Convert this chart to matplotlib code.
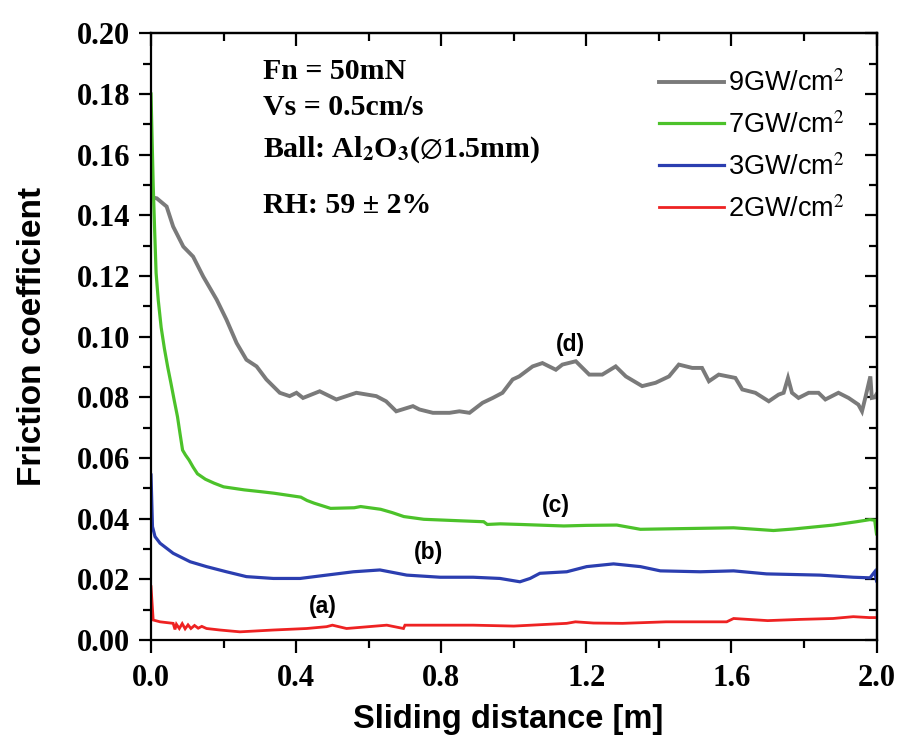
import matplotlib
matplotlib.use("Agg")
import matplotlib.pyplot as plt
from matplotlib.ticker import MultipleLocator

plt.rcParams['mathtext.fontset'] = 'stix'

# ---- data ----
x_9 = [0.0, 0.016, 0.043, 0.061, 0.089, 0.116, 0.144, 0.181, 0.208, 0.236, 0.263, 0.291, 0.318,
       0.355, 0.382, 0.401, 0.419, 0.465, 0.511, 0.566, 0.621, 0.648, 0.676, 0.722, 0.740, 0.777,
       0.823, 0.850, 0.878, 0.914, 0.942, 0.969, 0.997, 1.015, 1.052, 1.079, 1.116, 1.134, 1.171,
       1.208, 1.244, 1.281, 1.309, 1.354, 1.391, 1.428, 1.455, 1.492, 1.519, 1.538, 1.565, 1.611,
       1.630, 1.666, 1.703, 1.730, 1.744, 1.756, 1.767, 1.785, 1.813, 1.840, 1.859, 1.895, 1.923,
       1.950, 1.960, 1.969, 1.983, 1.987, 1.995, 2.0]
y_9 = [0.146, 0.1456, 0.1429, 0.1363, 0.1297, 0.1264, 0.1198, 0.1122, 0.1056, 0.0979, 0.0924,
       0.0902, 0.0859, 0.0815, 0.0804, 0.0815, 0.0798, 0.0820, 0.0793, 0.0815, 0.0804, 0.0787,
       0.0754, 0.0771, 0.0760, 0.0749, 0.0749, 0.0754, 0.0749, 0.0782, 0.0798, 0.0815, 0.0859,
       0.0869, 0.0902, 0.0913, 0.0891, 0.0908, 0.0919, 0.0875, 0.0875, 0.0902, 0.0869, 0.0837,
       0.0848, 0.0869, 0.0908, 0.0897, 0.0897, 0.0853, 0.0875, 0.0864, 0.0826, 0.0815, 0.0787,
       0.0809, 0.0815, 0.0864, 0.0815, 0.0798, 0.0815, 0.0815, 0.0793, 0.0815, 0.0798, 0.0776,
       0.0754, 0.0798, 0.0869, 0.0798, 0.0800, 0.0810]

x_7 = [0.0, 0.003, 0.006, 0.010, 0.014, 0.020, 0.028, 0.037, 0.046, 0.055, 0.064, 0.073, 0.080,
       0.087, 0.095, 0.105, 0.116, 0.128, 0.150, 0.174, 0.200, 0.257, 0.303, 0.339, 0.413, 0.430,
       0.450, 0.495, 0.560, 0.578, 0.633, 0.665, 0.697, 0.752, 0.853, 0.917, 0.927, 0.963, 1.018,
       1.138, 1.200, 1.284, 1.349, 1.450, 1.606, 1.716, 1.771, 1.881, 1.945, 1.982, 1.995, 2.0]
y_7 = [0.180, 0.165, 0.150, 0.135, 0.121, 0.112, 0.103, 0.096, 0.090, 0.0846, 0.079, 0.0736,
       0.068, 0.0626, 0.061, 0.0593, 0.057, 0.0548, 0.053, 0.0517, 0.0505, 0.0495, 0.0489,
       0.0484, 0.0471, 0.046, 0.0451, 0.0434, 0.0436, 0.0440, 0.0431, 0.042, 0.0407, 0.0398,
       0.0393, 0.0390, 0.0381, 0.0383, 0.0381, 0.0376, 0.0378, 0.0379, 0.0365, 0.0367, 0.0370,
       0.0361, 0.0366, 0.0379, 0.0390, 0.0397, 0.0395, 0.035]

x_3 = [0.0, 0.004, 0.011, 0.025, 0.061, 0.108, 0.153, 0.208, 0.263, 0.337, 0.411, 0.484, 0.558,
       0.631, 0.705, 0.797, 0.888, 0.962, 1.017, 1.045, 1.072, 1.146, 1.201, 1.275, 1.349, 1.404,
       1.514, 1.606, 1.697, 1.844, 1.936, 1.982, 1.995, 2.0]
y_3 = [0.0544, 0.0374, 0.0341, 0.0319, 0.0286, 0.0258, 0.0242, 0.0225, 0.0209, 0.0203, 0.0203,
       0.0214, 0.0225, 0.0231, 0.0214, 0.0207, 0.0207, 0.0203, 0.0192, 0.0203, 0.0220, 0.0225,
       0.0242, 0.0251, 0.0242, 0.0228, 0.0225, 0.0228, 0.0218, 0.0214, 0.0207, 0.0205, 0.0225,
       0.0195]

x_2 = [0.0, 0.006, 0.025, 0.061, 0.066, 0.070, 0.078, 0.086, 0.094, 0.102, 0.110, 0.120, 0.130,
       0.140, 0.153, 0.190, 0.245, 0.337, 0.429, 0.484, 0.500, 0.539, 0.650, 0.696, 0.700, 0.888,
       1.000, 1.146, 1.170, 1.220, 1.300, 1.420, 1.587, 1.606, 1.700, 1.789, 1.880, 1.936, 1.980,
       2.0]
y_2 = [0.0176, 0.0066, 0.0060, 0.0055, 0.0035, 0.0052, 0.0038, 0.0054, 0.0037, 0.0050, 0.0038,
       0.0048, 0.0039, 0.0045, 0.0038, 0.0033, 0.0027, 0.0033, 0.0038, 0.0044, 0.0049, 0.0038,
       0.0049, 0.0038, 0.0049, 0.0049, 0.0046, 0.0055, 0.0060, 0.0056, 0.0055, 0.0060, 0.0060,
       0.0071, 0.0064, 0.0068, 0.0071, 0.0077, 0.0074, 0.0074]

labels = ["9GW/cm$^2$", "7GW/cm$^2$", "3GW/cm$^2$", "2GW/cm$^2$"]
colors = ["#7a7a7a", "#4cc22a", "#2b3eb0", "#ee2222"]

curve_tags = ["(d)", "(c)", "(b)", "(a)"]
tag_x = [1.156, 1.115, 0.765, 0.473]
tag_y = [0.0973, 0.0445, 0.0287, 0.0109]

cond_lines = ["Fn = 50mN", "Vs = 0.5cm/s",
              r"Ball: Al$_\mathbf{2}$O$_\mathbf{3}$($\varnothing$1.5mm)", "RH: 59 ± 2%"]
cond_y = [0.1873, 0.1757, 0.1616, 0.1434]

# ---- figure ----
fig = plt.figure(figsize=(9, 7.47), dpi=100)
ax = fig.add_axes([0.1678, 0.1432, 0.8061, 0.8122])

series = [(x_9, y_9), (x_7, y_7), (x_3, y_3), (x_2, y_2)]
lws = [2.8, 2.3, 2.3, 2.0]
for (xs, ys), lab, c, lw in zip(series, labels, colors, lws):
    ax.plot(xs, ys, color=c, lw=lw, label=lab, solid_joinstyle='miter')

ax.set_xlim(0, 2.0)
ax.set_ylim(0, 0.20)
ax.xaxis.set_major_locator(MultipleLocator(0.4))
ax.xaxis.set_minor_locator(MultipleLocator(0.2))
ax.yaxis.set_major_locator(MultipleLocator(0.02))
ax.yaxis.set_minor_locator(MultipleLocator(0.01))
ax.xaxis.set_major_formatter(plt.FuncFormatter(lambda v, p: f"{v:.1f}"))
ax.yaxis.set_major_formatter(plt.FuncFormatter(lambda v, p: f"{v:.2f}"))

for s in ax.spines.values():
    s.set_linewidth(1.6)

ax.tick_params(which='both', direction='out', top=False, right=False, width=1.6)
ax.tick_params(which='major', length=9)
ax.tick_params(which='minor', length=5.5)
ax.tick_params(axis='x', which='major', pad=8)
ax.tick_params(axis='y', which='major', pad=6)

ax_top = ax.secondary_xaxis('top')
ax_top.xaxis.set_major_locator(MultipleLocator(0.4))
ax_top.xaxis.set_minor_locator(MultipleLocator(0.2))
ax_top.tick_params(which='both', direction='in', labeltop=False, width=1.6)
ax_top.tick_params(which='major', length=9)
ax_top.tick_params(which='minor', length=5.5)
ax_top.spines['top'].set_linewidth(1.6)
ax_right = ax.secondary_yaxis('right')
ax_right.yaxis.set_major_locator(MultipleLocator(0.02))
ax_right.yaxis.set_minor_locator(MultipleLocator(0.01))
ax_right.tick_params(which='both', direction='in', labelright=False, width=1.6)
ax_right.tick_params(which='major', length=9)
ax_right.tick_params(which='minor', length=5.5)
ax_right.spines['right'].set_linewidth(1.6)

for t in ax.get_xticklabels() + ax.get_yticklabels():
    t.set_fontfamily('Liberation Serif')
    t.set_fontweight('bold')
    t.set_fontsize(22)

ax.set_xlabel("Sliding distance [m]", fontfamily='Liberation Sans', fontweight='bold', fontsize=23.5)
ax.set_ylabel("Friction coefficient", fontfamily='Liberation Sans', fontweight='bold', fontsize=24)
ax.xaxis.set_label_coords(0.493, -0.105)
ax.yaxis.set_label_coords(-0.142, 0.5)

for txt, ty in zip(cond_lines, cond_y):
    ax.text(0.308, ty, txt, fontfamily='Liberation Serif', fontweight='bold', fontsize=21.5,
            va='center', ha='left')

for tag, tx, ty in zip(curve_tags, tag_x, tag_y):
    ax.text(tx, ty, tag, fontfamily='Liberation Sans', fontweight='bold', fontsize=16.5,
            ha='center', va='center')

leg = ax.legend(loc='upper right', bbox_to_anchor=(0.972, 0.957), frameon=False,
                prop={'family': 'Liberation Sans', 'size': 19.5}, handlelength=2.4,
                handletextpad=0.15, labelspacing=0.55, borderaxespad=0)

fig.savefig("out.png", dpi=100)
